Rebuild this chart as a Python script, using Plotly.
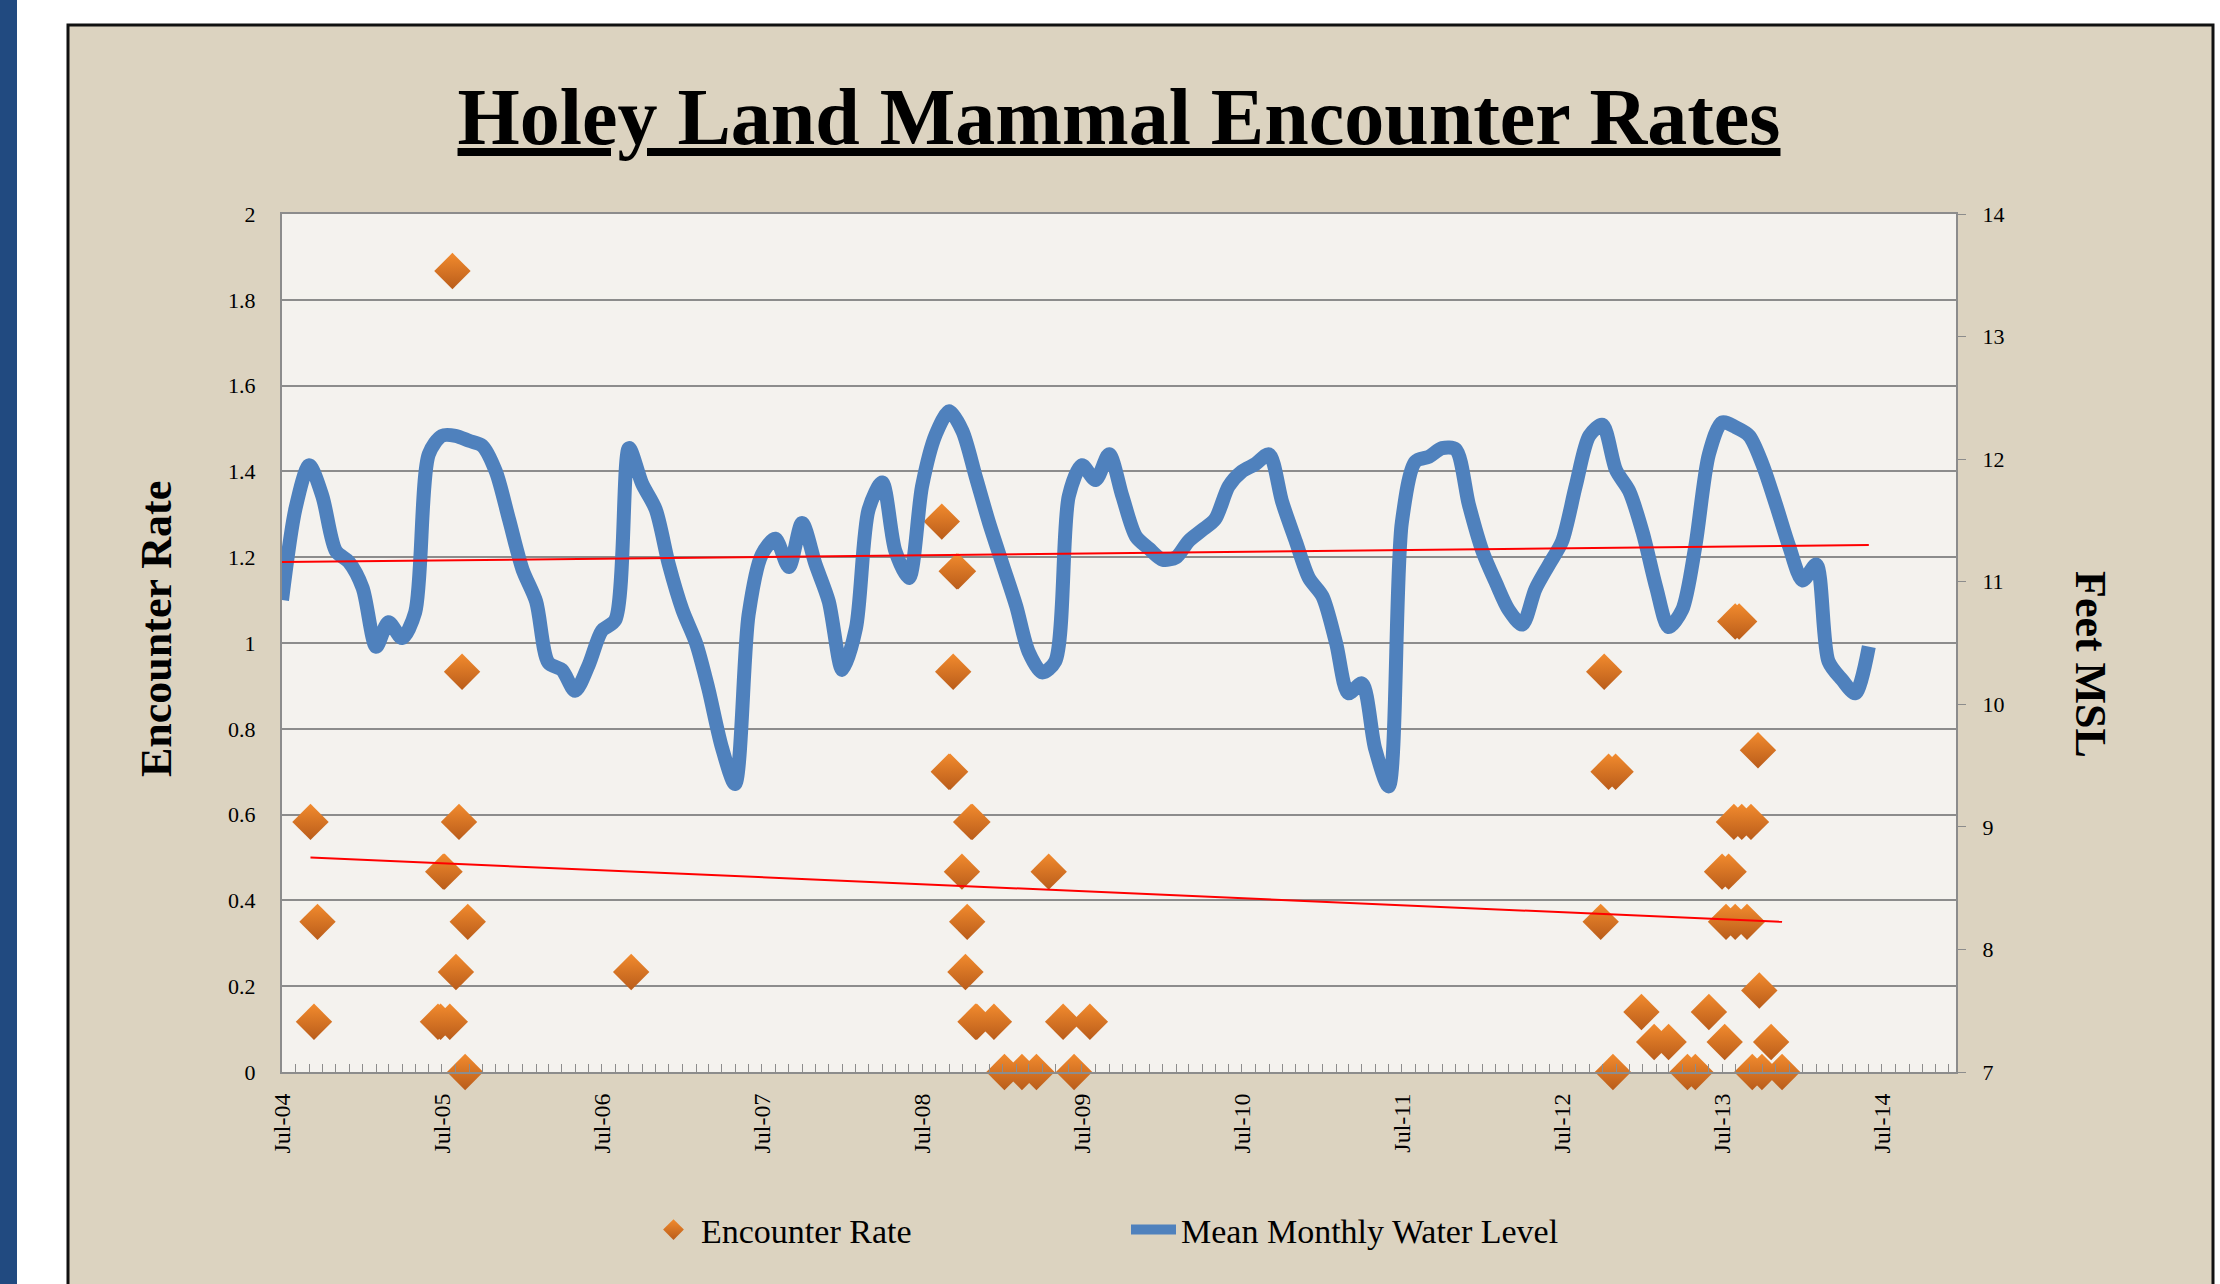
import pandas as pd
import plotly.graph_objects as go

# ── data ──────────────────────────────────────────
# mean monthly water level (feet MSL), Jul-2004 .. Jun-2014
water_ft = [
    10.85, 11.60, 11.95, 11.70, 11.25, 11.16, 10.95, 10.47, 10.67, 10.54, 10.75, 12.04,
    12.19, 12.19, 12.15, 12.11, 11.90, 11.51, 11.10, 10.84, 10.34, 10.28, 10.11, 10.32,
    10.60, 10.69, 12.09, 11.80, 11.59, 11.14, 10.77, 10.50, 10.13, 9.65, 9.35, 10.73,
    11.22, 11.35, 11.12, 11.48, 11.14, 10.84, 10.28, 10.62, 11.59, 11.81, 11.25, 11.03,
    11.78, 12.20, 12.39, 12.23, 11.85, 11.48, 11.14, 10.80, 10.43, 10.26, 10.35, 11.70,
    11.95, 11.83, 12.04, 11.70, 11.37, 11.27, 11.18, 11.20, 11.33, 11.42, 11.51, 11.78,
    11.90, 11.96, 12.04, 11.65, 11.33, 11.03, 10.88, 10.50, 10.09, 10.17, 9.64, 9.33,
    11.48, 11.98, 12.02, 12.09, 12.08, 11.63, 11.25, 10.99, 10.77, 10.65, 10.94, 11.14,
    11.33, 11.78, 12.19, 12.28, 11.91, 11.74, 11.40, 10.95, 10.63, 10.77, 11.29, 12.04,
    12.30, 12.26, 12.19, 11.96, 11.63, 11.29, 11.01, 11.14, 10.35, 10.20, 10.09, 10.47,
]
water_dates = pd.date_range('2004-07-01', periods=len(water_ft), freq='MS')

# survey dates and encounter rates
enc_dates = [
    '2004-09-04', '2004-09-12', '2004-09-20',
    '2005-06-22', '2005-06-28', '2005-07-04', '2005-07-07', '2005-07-19', '2005-07-25',
    '2005-08-02', '2005-08-09', '2005-08-16', '2005-08-23', '2005-08-29',
    '2006-09-06',
    '2008-08-15', '2008-08-31', '2008-09-03', '2008-09-10', '2008-09-18', '2008-09-21',
    '2008-09-30', '2008-10-08', '2008-10-12', '2008-10-21', '2008-10-24', '2008-10-31',
    '2008-11-03', '2008-12-12', '2009-01-05', '2009-02-14', '2009-03-19', '2009-04-16',
    '2009-05-19', '2009-06-13', '2009-07-19',
    '2012-09-27', '2012-10-05', '2012-10-15', '2012-10-25', '2012-10-31', '2012-12-29',
    '2013-01-27', '2013-03-01', '2013-04-13', '2013-05-01', '2013-06-01', '2013-07-01',
    '2013-07-07', '2013-07-10', '2013-07-16', '2013-07-28', '2013-07-31', '2013-07-31',
    '2013-08-09', '2013-08-15', '2013-08-27', '2013-09-05', '2013-09-08', '2013-09-21',
    '2013-09-24', '2013-09-30', '2013-10-21', '2013-11-15',
]
enc_rate = [
    0.583, 0.117, 0.35,
    0.117, 0.117, 0.467, 0.467, 0.117, 1.867,
    0.233, 0.583, 0.933, 0.0, 0.35,
    0.233,
    1.283, 0.7, 0.7, 0.933, 1.167, 1.167,
    0.467, 0.233, 0.35, 0.583, 0.583, 0.117,
    0.117, 0.117, 0.0, 0.0, 0.0, 0.467,
    0.117, 0.0, 0.117,
    0.35, 0.933, 0.7, 0.0, 0.7, 0.14,
    0.07, 0.07, 0.0, 0.0, 0.14, 0.467,
    0.07, 0.35, 0.467, 0.583, 1.05, 0.35,
    1.05, 0.583, 0.35, 0.583, 0.0, 0.75,
    0.19, 0.0, 0.07, 0.0,
]

# linear trend lines (end points)
enc_trend_dates = ['2004-09-04', '2013-11-15']
enc_trend = [0.50, 0.35]
water_trend_dates = ['2004-07-01', '2014-06-01']
water_trend = [11.16, 11.30]

SERIF = 'Liberation Serif'
GRID = '#8c8c8c'

fig = go.Figure()

fig.add_trace(go.Scatter(
    x=enc_dates, y=enc_rate, mode='markers', name='Encounter Rate', cliponaxis=False,
    marker=dict(symbol='diamond', size=28, color='#f28b2e',
                gradient=dict(type='vertical', color='#b95c1a'),
                line=dict(width=0)),
))
fig.add_trace(go.Scatter(
    x=enc_trend_dates, y=enc_trend, mode='lines', showlegend=False,
    line=dict(color='#ff0000', width=2), hoverinfo='skip',
))
fig.add_trace(go.Scatter(
    x=water_dates, y=water_ft, mode='lines', name='Mean Monthly Water Level',
    yaxis='y2', line=dict(color='#4f81bd', width=14, shape='spline', smoothing=0.8),
))
fig.add_trace(go.Scatter(
    x=water_trend_dates, y=water_trend, mode='lines', showlegend=False, yaxis='y2',
    line=dict(color='#ff0000', width=2), hoverinfo='skip',
))

# page decoration: blue strip at the left, linen-coloured frame, plot panel
PL, PR, PT, PB = 282, 1956, 214, 1072
def px_x(v):
    return (v - PL) / (PR - PL)
def px_y(v):
    return (PB - v) / (PB - PT)

fig.add_shape(type='rect', xref='paper', yref='paper', layer='below',
              x0=px_x(0), x1=px_x(17), y0=px_y(1300), y1=px_y(-10),
              fillcolor='#214a80', line=dict(width=0))
fig.add_shape(type='rect', xref='paper', yref='paper', layer='below',
              x0=px_x(68), x1=px_x(2213), y0=px_y(1300), y1=px_y(25),
              fillcolor='#dcd3c0', line=dict(color='#111111', width=3))
fig.add_shape(type='rect', xref='paper', yref='paper', layer='below',
              x0=0, x1=1, y0=0, y1=1,
              fillcolor='#f4f2ee', line=dict(width=0))

fig.add_annotation(text='<b>Encounter Rate</b>', textangle=-90, showarrow=False,
                   xref='paper', yref='paper', x=px_x(156), y=px_y(629),
                   xanchor='center', yanchor='middle',
                   font=dict(family=SERIF, size=44, color='#000000'))
fig.add_annotation(text='<b>Feet MSL</b>', textangle=90, showarrow=False,
                   xref='paper', yref='paper', x=px_x(2091), y=px_y(664),
                   xanchor='center', yanchor='middle',
                   font=dict(family=SERIF, size=44, color='#000000'))

fig.update_layout(
    width=2220, height=1284,
    margin=dict(l=PL, r=2220 - PR, t=PT, b=1284 - PB, pad=0),
    paper_bgcolor='#ffffff', plot_bgcolor='rgba(0,0,0,0)',
    font=dict(family=SERIF, color='#000000'),
    title=dict(text='<b><u>Holey Land Mammal Encounter Rates</u></b>',
               x=0.5, xref='paper', xanchor='center',
               y=1 - 116 / 1284, yref='container', yanchor='middle',
               font=dict(family=SERIF, size=80, color='#000000')),
    xaxis=dict(
        type='date', range=['2004-07-01', '2014-12-17'],
        tick0='2004-07-01', dtick='M12', tickformat='%b-%y', tickangle=-90,
        tickfont=dict(size=24), ticks='inside', ticklen=8, tickcolor=GRID,
        ticklabelstandoff=10,
        minor=dict(dtick='M1', ticks='inside', ticklen=8, tickcolor=GRID, showgrid=False),
        showgrid=False, showline=True, linecolor=GRID, linewidth=2, mirror=True,
        zeroline=False,
    ),
    yaxis=dict(
        range=[0, 2], dtick=0.2, tickfont=dict(size=22),
        showgrid=True, gridcolor=GRID, gridwidth=2,
        showline=True, linecolor=GRID, linewidth=2, zeroline=False,
        ticks='', ticklabelstandoff=20,
    ),
    yaxis2=dict(
        range=[7, 14], dtick=1, overlaying='y', side='right',
        tickfont=dict(size=22), showgrid=False, zeroline=False,
        showline=True, linecolor=GRID, linewidth=2,
        ticks='outside', ticklen=8, tickcolor=GRID, ticklabelstandoff=12,
    ),
    legend=dict(
        orientation='h', x=px_x(646), y=px_y(1230), xanchor='left', yanchor='middle',
        bgcolor='rgba(0,0,0,0)', font=dict(family=SERIF, size=34),
        entrywidth=420, itemwidth=45,
    ),
)

fig.write_html('out.html', config={'displayModeBar': False},
               post_script="document.body.style.margin='0';document.body.style.overflow='hidden';")
